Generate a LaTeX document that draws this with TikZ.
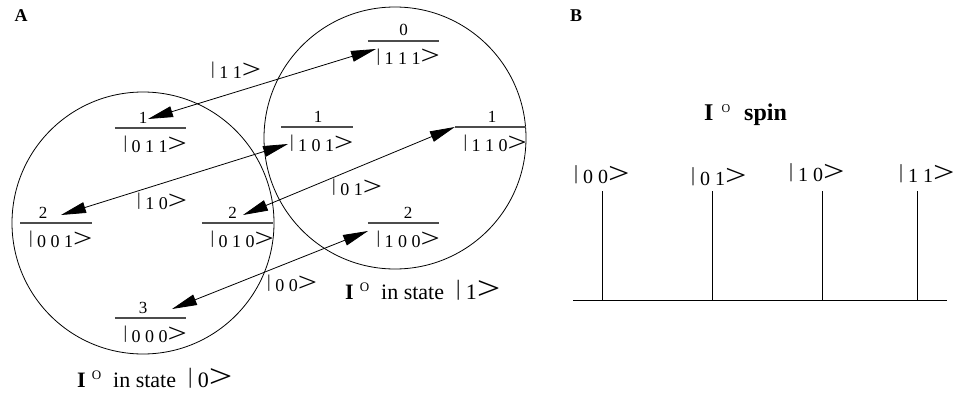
\documentclass[tikz,border=0pt]{standalone}
\usepackage{fontspec}
\setmainfont{Liberation Serif}
\usepackage{graphicx}
\usetikzlibrary{arrows.meta}
\newcommand\myket[1]{\raisebox{0.18em}{|} #1\scalebox{1.9}[1.5]{>}}
\newcommand\Isup[3]{\textbf{I}\hspace{#1}\raisebox{8pt}{\fontsize{#2}{#2}\selectfont O}\hspace{#3}}
\begin{document}
\begin{tikzpicture}[x=1pt,y=-1pt,
  lvl/.style={inner sep=0pt, minimum width=71pt, minimum height=0pt},
  lvline/.style={line width=1.4pt, black!70},
  num/.style={font=\fontsize{17}{17}\selectfont, anchor=base, inner sep=0pt},
  ketl/.style={font=\fontsize{18}{18}\selectfont, anchor=base east, inner sep=0pt},
  tlab/.style={font=\fontsize{18}{18}\selectfont, anchor=base west, inner sep=0pt},
  bket/.style={font=\fontsize{20}{20}\selectfont, anchor=base west, inner sep=0pt},
  captext/.style={font=\fontsize{22}{22}\selectfont, anchor=base west, inner sep=0pt},
  panel/.style={font=\fontsize{18}{18}\selectfont\bfseries, inner sep=0pt},
  ring/.style={circle, draw, line width=0.8pt, minimum size=262pt, inner sep=0pt},
  trans/.style={line width=0.8pt, {Triangle[length=25pt,width=11pt]}-{Triangle[length=25pt,width=11pt]}},
  axisline/.style={line width=0.9pt}]
\useasboundingbox (0,0) rectangle (958,396);

% panel letters
\node[panel] (pA) at (21,16) {A};
\node[panel] (pB) at (576,16) {B};

% circles
\node[ring] (c0) at (143,223) {};
\node[ring] (c1) at (395,138) {};

% levels
\node[lvl] (l111) at (403.5,41) {};
\node[lvl] (l101) at (317,127) {};
\node[lvl] (l110) at (490.5,127) {};
\node[lvl] (l100) at (403.5,223) {};
\node[lvl] (l011) at (150.5,128) {};
\node[lvl] (l001) at (56,223) {};
\node[lvl] (l010) at (237.5,223) {};
\node[lvl] (l000) at (150.5,318) {};

\foreach \l in {l111,l101,l110,l100,l011,l001,l010,l000}
  \draw[lvline] (\l.west) -- (\l.east);

% numbers above
\node[num] (n111) at ([shift={(0,-5)}]l111.center) {0};
\node[num] (n101) at ([shift={(1,-5)}]l101.center) {1};
\node[num] (n110) at ([shift={(1.5,-5)}]l110.center) {1};
\node[num] (n100) at ([shift={(4.5,-5)}]l100.center) {2};
\node[num] (n011) at ([shift={(-7.5,-5)}]l011.center) {1};
\node[num] (n001) at ([shift={(-13,-5)}]l001.center) {2};
\node[num] (n010) at ([shift={(-5,-5)}]l010.center) {2};
\node[num] (n000) at ([shift={(-7.5,-5)}]l000.center) {3};

% kets below
\node[ketl] (k111) at ([shift={(1,24)}]l111.east) {\myket{1 1 1}};
\node[ketl] (k101) at ([shift={(1,24)}]l101.east) {\myket{1 0 1}};
\node[ketl] (k110) at ([shift={(1,24)}]l110.east) {\myket{1 1 0}};
\node[ketl] (k100) at ([shift={(1,24)}]l100.east) {\myket{1 0 0}};
\node[ketl] (k011) at ([shift={(1,24)}]l011.east) {\myket{0 1 1}};
\node[ketl] (k001) at ([shift={(1,24)}]l001.east) {\myket{0 0 1}};
\node[ketl] (k010) at ([shift={(1,24)}]l010.east) {\myket{0 1 0}};
\node[ketl] (k000) at ([shift={(1,24)}]l000.east) {\myket{0 0 0}};

% transitions
\draw[trans] ([shift={(-2.5,-9)}]l011.center) -- ([shift={(-27.5,8)}]l111.center);
\draw[trans] ([shift={(5,-8)}]l001.center) -- ([shift={(-29,17)}]l101.center);
\draw[trans] ([shift={(5.5,-8)}]l010.center) -- (l110.west);
\draw[trans] ([shift={(21.5,-9)}]l000.center) -- ([shift={(-35.5,8)}]l100.center);

% transition labels
\node[tlab] (t11) at (211,78) {\myket{1 1}};
\node[tlab] (t10) at (137,209) {\myket{1 0}};
\node[tlab] (t01) at (332,195) {\myket{0 1}};
\node[tlab] (t00) at (267,291) {\myket{0 0}};

% circle captions
\node[captext] (cap0) at (77,387) {\Isup{6pt}{13}{12pt}in state\hspace{12pt}\myket{0}};
\node[captext] (cap1) at (345,299) {\Isup{6pt}{13}{12pt}in state\hspace{12pt}\myket{1}};

% panel B
\node[captext, font=\fontsize{24}{24}\selectfont] (spin) at (704,120) {\Isup{8pt}{12}{14pt}\textbf{spin}};
\coordinate (ax0) at (573,300);
\coordinate (ax1) at (947,300);
\draw[axisline] (ax0) -- (ax1);
\foreach \x/\nm in {602/a,712/b,822/c,917/d}{
  \coordinate (top\nm) at (\x,191);
  \coordinate (bot\nm) at (\x,300);
  \draw[axisline] (top\nm) -- (bot\nm);
}
\node[bket] (b00) at (574,183) {\myket{0 0}};
\node[bket] (b01) at (691,185) {\myket{0 1}};
\node[bket] (b10) at (789,181) {\myket{1 0}};
\node[bket] (b11) at (899,182) {\myket{1 1}};
\end{tikzpicture}
\end{document}
